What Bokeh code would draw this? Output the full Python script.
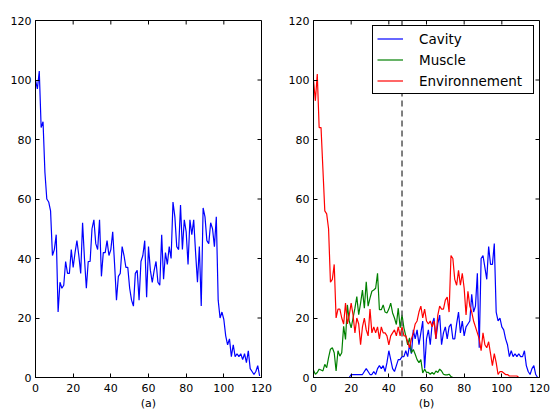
import math
from bokeh.plotting import figure
from bokeh.models import Range1d, Span, Legend, LegendItem, FixedTicker
from bokeh.layouts import row
from bokeh.embed import file_html
from bokeh.resources import INLINE

x = list(range(120))

total = [100, 97, 103, 84, 86, 69, 60, 59, 56, 41,
         43, 48, 22, 32, 30, 31, 39, 35, 35, 43,
         37, 42, 46, 41, 35, 52, 40, 30, 39, 39,
         50, 53, 45, 43, 53, 34, 42, 42, 46, 41,
         43, 49, 38, 26, 34, 35, 44, 41, 37, 37,
         30, 26, 24, 35, 36, 26, 39, 41, 46, 27,
         44, 36, 32, 36, 39, 32, 31, 48, 33, 42,
         38, 44, 40, 59, 54, 44, 43, 58, 43, 53,
         49, 38, 53, 48, 53, 42, 32, 44, 24, 57,
         54, 46, 45, 52, 50, 44, 54, 26, 20, 22,
         19.5, 14, 11, 13, 7, 11, 7, 8, 7, 8,
         6, 8, 5, 9, 3, 2, 1, 2, 4, 0.5]

cavity = [0] * 20 + [
    1, 1, 1, 1, 1, 1, 1, 2, 3, 2,
    1, 1, 2, 1, 3, 4, 3, 4, 2, 5,
    9, 6, 3, 2, 4, 6, 6, 7, 7, 9,
    7, 11, 8, 16, 13, 16, 11, 15, 19, 3,
    13, 16, 11, 18, 20, 13, 18, 21, 11, 15,
    17, 13, 17, 18, 13, 13, 18, 22, 15, 19,
    14, 17, 18, 19, 28, 22, 24, 35, 10, 40,
    41, 37, 33, 44, 38, 38, 45, 22, 19, 20,
    17, 16, 13, 11, 7, 9, 7, 8, 7, 8,
    7, 7, 9, 4, 2, 1, 3, 4, 1, 0]

muscle = [2.4, 1.1, 1.7, 2.8, 2.5, 2.2, 4.4, 3.3, 6.7, 9.5,
          10, 8.3, 2.2, 9, 7.2, 8.3, 17.2, 12.8, 24.4, 18.9,
          16.7, 20, 23.3, 27.2, 21.1, 25, 29.4, 23.3, 32.2, 24,
          26.7, 29, 29.4, 30, 35, 22.8, 22.8, 24.4, 22, 21.7,
          23, 25, 21.7, 20, 17.8, 23.3, 16.7, 21.1, 16.7, 14,
          11, 13.3, 8.3, 9.4, 7.8, 6, 5, 6, 1.5, 2.8,
          1.7, 1.7, 1.1, 1.7, 1.1, 2.2, 1.7, 2.8, 2.2, 1.1,
          0.9, 0.9, 1.1, 0.3, 0, 0, 0, 0, 0, 0] + [0] * 40

environnement = [100, 93, 102, 84, 84, 70, 56, 55, 50, 32,
                 33, 38, 20, 23, 23, 20, 18, 25, 18, 21,
                 25, 21, 15, 20, 18, 11, 17, 20, 16, 14,
                 23, 15, 17, 15, 17, 13, 17, 15, 15, 14,
                 11, 14, 15, 16, 14, 17, 14, 17, 14, 14,
                 12, 10, 13, 15, 18, 19, 22, 24, 20, 23,
                 19, 18, 19, 17, 19, 13, 21, 24, 23, 23,
                 26, 27, 22, 41, 40, 33, 31, 36, 31, 35,
                 30, 21, 29, 24, 22, 19, 17, 15, 13, 9,
                 15, 11, 10, 12, 8, 4, 8, 5, 1, 2,
                 2, 1.5, 1, 1, 0.5, 0.5, 0.5, 0.5, 0.5, 0] + [0] * 10

split_x = 47
x_max = 120
y_max = 120
ticks = [0, 20, 40, 60, 80, 100, 120]
series_names = ["Cavity", "Muscle", "Environnement"]
panel_labels = ["(a)", "(b)"]

FONT = "DejaVu Sans"


def style_axis(ax, standoff, label=None):
    ax.ticker = FixedTicker(ticks=ticks, minor_ticks=[])
    ax.axis_line_color = "black"
    ax.major_tick_line_color = "black"
    ax.major_tick_in = 4
    ax.major_tick_out = 0
    ax.minor_tick_in = 0
    ax.minor_tick_out = 0
    ax.major_label_text_font = FONT
    ax.major_label_text_color = "black"
    ax.major_label_text_font_size = "11px"
    ax.major_label_standoff = standoff
    if label is not None:
        ax.axis_label = label
        ax.axis_label_text_font = FONT
        ax.axis_label_text_font_size = "11px"
        ax.axis_label_text_font_style = "normal"
        ax.axis_label_text_color = "black"
        ax.axis_label_standoff = 2


def make(width, left, right, label):
    p = figure(width=width, height=412,
               x_range=Range1d(0, x_max), y_range=Range1d(0, y_max),
               output_backend="svg", toolbar_location=None,
               min_border_left=left, min_border_right=right,
               min_border_top=20, min_border_bottom=32)
    p.xgrid.visible = False
    p.ygrid.visible = False
    p.outline_line_color = "black"
    p.outline_line_alpha = 1
    p.outline_line_width = 1
    p.background_fill_color = "white"
    p.border_fill_color = "white"
    style_axis(p.below[0], 6, label)
    style_axis(p.left[0], 4)
    # inward ticks on the top and right spines
    p.ray(x=ticks, y=[y_max] * len(ticks), length=4, length_units="screen",
          angle=-math.pi / 2, line_color="black", line_width=1)
    p.ray(x=[x_max] * len(ticks), y=ticks, length=4, length_units="screen",
          angle=math.pi, line_color="black", line_width=1)
    return p


pa = make(278, 35, 17, panel_labels[0])
pa.line(x, total, line_color="#0000ff", line_width=1.2)

pb = make(272, 35, 11, panel_labels[1])
r1 = pb.line(x, cavity, line_color="#0000ff", line_width=1.2)
r2 = pb.line(x, muscle, line_color="#008000", line_width=1.2)
r3 = pb.line(x, environnement, line_color="#ff0000", line_width=1.2)
pb.add_layout(Span(location=split_x, dimension="height", line_color="#555555",
                   line_dash="6 4", line_width=1.5))

legend = Legend(items=[LegendItem(label=series_names[0], renderers=[r1]),
                       LegendItem(label=series_names[1], renderers=[r2]),
                       LegendItem(label=series_names[2], renderers=[r3])],
                location="top_right")
legend.margin = 5
legend.padding = 4
legend.spacing = 4
legend.glyph_width = 26
legend.glyph_height = 17
legend.label_height = 17
legend.label_width = 110
legend.label_standoff = 16
legend.label_text_font = FONT
legend.label_text_font_size = "13.5px"
legend.label_text_color = "black"
legend.border_line_color = "black"
legend.border_line_width = 1
legend.border_line_alpha = 1
legend.background_fill_color = "white"
legend.background_fill_alpha = 1
pb.add_layout(legend)

layout = row(pa, pb)
open("out.html", "w").write(file_html(layout, INLINE))
